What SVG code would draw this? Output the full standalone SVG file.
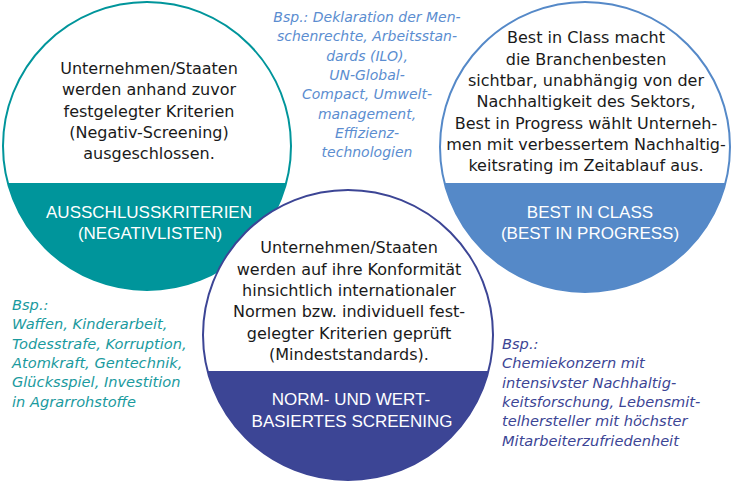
<svg xmlns="http://www.w3.org/2000/svg" width="731" height="489" viewBox="0 0 731 489">
<style>
.body{font-family:"DejaVu Sans",sans-serif;font-size:16px;fill:#1a1a1a;text-anchor:middle}
.lbl{font-family:"Liberation Sans",Arial,sans-serif;font-size:17px;fill:#ffffff;text-anchor:middle}
.ex{font-family:"DejaVu Sans",sans-serif;font-size:14px;font-style:italic}
.exs{font-size:14.6px}
</style>
<defs>
<clipPath id="cl"><circle cx="147" cy="146" r="144"/></clipPath>
<clipPath id="cr"><circle cx="585" cy="147" r="145"/></clipPath>
<clipPath id="cb"><circle cx="348" cy="335" r="145"/></clipPath>
</defs>
<rect width="731" height="489" fill="#ffffff"/>
<g id="node-ausschluss">
<circle cx="147" cy="146" r="144" fill="#ffffff" stroke="#00959b" stroke-width="2"/>
<rect x="0" y="183" width="300" height="120" fill="#00959b" clip-path="url(#cl)"/>
<text class="body" x="149" y="74">Unternehmen/Staaten</text>
<text class="body" x="149" y="95.3">werden anhand zuvor</text>
<text class="body" x="149" y="116.6">festgelegter Kriterien</text>
<text class="body" x="149" y="137.9">(Negativ-Screening)</text>
<text class="body" x="149" y="159.2">ausgeschlossen.</text>
<text class="lbl" x="149" y="218">AUSSCHLUSSKRITERIEN</text>
<text class="lbl" x="150" y="239">(NEGATIVLISTEN)</text>
</g>
<g id="node-bestinclass">
<circle cx="585" cy="147" r="145" fill="#ffffff" stroke="#5589c8" stroke-width="2"/>
<rect x="430" y="183" width="310" height="120" fill="#5589c8" clip-path="url(#cr)"/>
<text class="body" x="586" y="43.3">Best in Class macht</text>
<text class="body" x="586" y="64.6">die Branchenbesten</text>
<text class="body" x="586" y="85.9">sichtbar, unabhängig von der</text>
<text class="body" x="586" y="107.2">Nachhaltigkeit des Sektors,</text>
<text class="body" x="586" y="128.5">Best in Progress wählt Unterneh-</text>
<text class="body" x="586" y="149.8">men mit verbessertem Nachhaltig-</text>
<text class="body" x="586" y="171.1">keitsrating im Zeitablauf aus.</text>
<text class="lbl" x="590" y="218">BEST IN CLASS</text>
<text class="lbl" x="590" y="239">(BEST IN PROGRESS)</text>
</g>
<g id="node-norm">
<circle cx="348" cy="335" r="145" fill="#ffffff" stroke="#3c4595" stroke-width="2"/>
<rect x="190" y="371" width="320" height="120" fill="#3c4595" clip-path="url(#cb)"/>
<text class="body" x="349" y="253.3">Unternehmen/Staaten</text>
<text class="body" x="349" y="274.6">werden auf ihre Konformität</text>
<text class="body" x="349" y="295.9">hinsichtlich internationaler</text>
<text class="body" x="349" y="317.2">Normen bzw. individuell fest-</text>
<text class="body" x="349" y="338.5">gelegter Kriterien geprüft</text>
<text class="body" x="349" y="359.8">(Mindeststandards).</text>
<text class="lbl" x="351" y="405">NORM- UND WERT-</text>
<text class="lbl" x="352" y="426.5">BASIERTES SCREENING</text>
</g>
<g id="note-top" class="ex" fill="#5b8dd0" text-anchor="middle">
<text x="367" y="22">Bsp.: Deklaration der Men-</text>
<text x="367" y="41.3">schenrechte, Arbeitsstan-</text>
<text x="367" y="60.6">dards (ILO),</text>
<text x="367" y="79.9">UN-Global-</text>
<text x="367" y="99.2">Compact, Umwelt-</text>
<text x="367" y="118.5">management,</text>
<text x="367" y="137.8">Effizienz-</text>
<text x="367" y="157.1">technologien</text>
</g>
<g id="note-left" class="ex exs" fill="#1a9a9e">
<text x="12" y="310">Bsp.:</text>
<text x="12" y="329.3">Waffen, Kinderarbeit,</text>
<text x="12" y="348.6">Todesstrafe, Korruption,</text>
<text x="12" y="367.9">Atomkraft, Gentechnik,</text>
<text x="12" y="387.2">Glücksspiel, Investition</text>
<text x="12" y="406.5">in Agrarrohstoffe</text>
</g>
<g id="note-right" class="ex exs" fill="#3c4595">
<text x="502" y="349">Bsp.:</text>
<text x="502" y="368.3">Chemiekonzern mit</text>
<text x="502" y="387.6">intensivster Nachhaltig-</text>
<text x="502" y="406.9">keitsforschung, Lebensmit-</text>
<text x="502" y="426.2">telhersteller mit höchster</text>
<text x="502" y="445.5">Mitarbeiterzufriedenheit</text>
</g>
<g id="connectors"/>
</svg>
